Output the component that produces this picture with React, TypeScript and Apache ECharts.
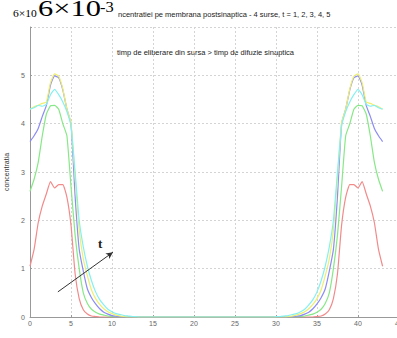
import React, { useEffect, useRef } from "react";
import * as echarts from "echarts";

const xLeft = [0, 0.5, 1, 1.5, 2, 2.5, 3, 3.5, 4, 4.5, 5, 5.5, 6, 6.5, 7, 7.5, 8, 8.5, 9, 9.5, 10, 10.5, 11, 11.5, 12, 12.5, 13, 13.5];
const xRight = [29.5, 30, 30.5, 31, 31.5, 32, 32.5, 33, 33.5, 34, 34.5, 35, 35.5, 36, 36.5, 37, 37.5, 38, 38.5, 39, 39.5, 40, 40.5, 41, 41.5, 42, 42.5, 43];

const redLeft = [1.05, 1.4, 1.95, 2.3, 2.55, 2.8, 2.67, 2.74, 2.74, 2.48, 1.9, 0.9, 0.38, 0.15, 0.06, 0.02, 0.01, 0, 0, 0, 0, 0, 0, 0, 0, 0, 0, 0];
const redRight = [0, 0, 0, 0, 0, 0, 0, 0, 0, 0, 0, 0.01, 0.02, 0.06, 0.15, 0.38, 0.9, 1.9, 2.48, 2.74, 2.74, 2.67, 2.8, 2.55, 2.3, 1.95, 1.4, 1.05];

const greenLeft = [2.6, 2.85, 3.2, 3.75, 4.2, 4.37, 4.38, 4.3, 4.0, 3.75, 2.7, 1.7, 1.0, 0.5, 0.28, 0.16, 0.1, 0.06, 0.04, 0.02, 0.01, 0, 0, 0, 0, 0, 0, 0];
const greenRight = [0, 0, 0, 0, 0, 0, 0, 0.01, 0.02, 0.04, 0.06, 0.1, 0.16, 0.28, 0.5, 1.0, 1.7, 2.7, 3.75, 4.0, 4.3, 4.38, 4.37, 4.2, 3.75, 3.2, 2.85, 2.6];

const blueLeft = [3.63, 3.75, 3.9, 4.15, 4.38, 4.8, 4.99, 4.95, 4.7, 4.3, 4.0, 2.5, 1.4, 0.95, 0.58, 0.4, 0.27, 0.17, 0.1, 0.06, 0.03, 0.015, 0, 0, 0, 0, 0, 0];
const blueRight = [0, 0, 0, 0, 0, 0, 0.015, 0.03, 0.06, 0.1, 0.17, 0.27, 0.4, 0.58, 0.95, 1.4, 2.5, 4.0, 4.3, 4.7, 4.95, 4.99, 4.8, 4.38, 4.15, 3.9, 3.75, 3.63];

const yellowLeft = [4.3, 4.35, 4.38, 4.42, 4.45, 4.85, 5.03, 4.98, 4.72, 4.3, 4.02, 2.9, 1.8, 1.2, 0.85, 0.56, 0.38, 0.26, 0.17, 0.11, 0.07, 0.04, 0.02, 0.01, 0, 0, 0, 0];
const yellowRight = [0, 0, 0, 0, 0.01, 0.02, 0.04, 0.07, 0.11, 0.17, 0.26, 0.38, 0.56, 0.85, 1.2, 1.8, 2.9, 4.02, 4.3, 4.72, 4.98, 5.03, 4.85, 4.45, 4.42, 4.38, 4.35, 4.3];

const cyanLeft = [4.3, 4.33, 4.38, 4.36, 4.4, 4.6, 4.71, 4.6, 4.45, 4.25, 3.95, 3.0, 2.0, 1.45, 1.05, 0.75, 0.52, 0.36, 0.25, 0.16, 0.11, 0.07, 0.05, 0.03, 0.02, 0.01, 0.005, 0];
const cyanRight = [0, 0.005, 0.01, 0.02, 0.03, 0.05, 0.07, 0.11, 0.16, 0.25, 0.36, 0.52, 0.75, 1.05, 1.45, 2.0, 3.0, 3.95, 4.25, 4.45, 4.6, 4.71, 4.6, 4.4, 4.36, 4.38, 4.33, 4.3];

const seriesDefs = [
  { name: "t=1", left: redLeft, right: redRight, color: "#f28a8a" },
  { name: "t=2", left: greenLeft, right: greenRight, color: "#86e886" },
  { name: "t=3", left: blueLeft, right: blueRight, color: "#8c8cf4" },
  { name: "t=4", left: yellowLeft, right: yellowRight, color: "#eeee70" },
  { name: "t=5", left: cyanLeft, right: cyanRight, color: "#86f0f0" },
];

const xTickLabels = ["0", "5", "10", "15", "20", "25", "30", "35", "40", "45"];
const yTickLabels = ["0", "1", "2", "3", "4", "5", ""];

const arrowFrom = [3.4, 0.52];
const arrowTo = [10.12, 1.34];

const titleText = "ncentratiei pe membrana postsinaptica - 4 surse, t = 1, 2, 3, 4, 5";
const subtitleText = "timp de eliberare din sursa > timp de difuzie sinaptica";
const yName = "concentratia";

export default function App() {
  const ref = useRef<HTMLDivElement>(null);
  useEffect(() => {
    if (!ref.current) return;
    const chart = echarts.init(ref.current, null, { renderer: "svg" });
    const series: any[] = seriesDefs.map((s) => ({
      type: "line",
      name: s.name,
      data: [...xLeft.map((x, i) => [x, s.left[i]]), ...xRight.map((x, i) => [x, s.right[i]])],
      showSymbol: false,
      smooth: 0.15,
      lineStyle: { color: s.color, width: 1.2 },
      itemStyle: { color: s.color },
      z: 3,
    }));
    series.push({
      type: "line",
      data: [],
      markLine: {
        silent: true,
        symbol: ["none", "arrow"],
        symbolSize: [5, 7],
        label: { show: false },
        lineStyle: { color: "#333", width: 1, type: "solid" },
        data: [[{ coord: arrowFrom }, { coord: arrowTo }]],
      },
    });
    chart.setOption({
      animation: false,
      grid: { left: 30, top: 27, width: 369, bottom: 21, containLabel: false, outerBoundsMode: "none" },
      xAxis: {
        type: "value",
        min: 0,
        max: 45,
        interval: 5,
        axisLine: { show: true, lineStyle: { color: "#999" } },
        axisTick: { show: true, inside: true, length: 2, lineStyle: { color: "#999" } },
        axisLabel: {
          color: "#666",
          fontSize: 7,
          fontFamily: "Liberation Sans",
          margin: 3,
          formatter: (v: number) => xTickLabels[Math.round(v / 5)] ?? "",
        },
        splitLine: { show: true, lineStyle: { color: "#d4d4d4", type: [2, 2], width: 1 } },
      },
      yAxis: {
        type: "value",
        min: 0,
        max: 6,
        interval: 1,
        name: yName,
        nameLocation: "middle",
        nameGap: 15,
        nameTextStyle: { color: "#333", fontSize: 7, fontFamily: "Liberation Sans" },
        axisLine: { show: true, lineStyle: { color: "#999" } },
        axisTick: { show: true, inside: true, length: 2, lineStyle: { color: "#999" } },
        axisLabel: {
          color: "#666",
          fontSize: 7,
          fontFamily: "Liberation Sans",
          margin: 5,
          formatter: (v: number) => yTickLabels[Math.round(v)] ?? "",
        },
        splitLine: { show: true, lineStyle: { color: "#d4d4d4", type: [2, 2], width: 1 } },
      },
      graphic: [
        {
          type: "text",
          x: 13,
          y: 8,
          scaleX: 1.05,
          style: { text: "6×10", fontSize: 11, fontFamily: "Liberation Serif", fill: "#000", verticalAlign: "top" },
        },
        {
          type: "text",
          x: 38,
          y: -3.5,
          scaleX: 1.27,
          style: { text: "6×10", fontSize: 24, fontFamily: "Liberation Serif", fill: "#000", verticalAlign: "top" },
        },
        {
          type: "text",
          x: 100,
          y: -1,
          scaleX: 1.1,
          style: { text: "-3", fontSize: 15, fontFamily: "Liberation Serif", fill: "#000", verticalAlign: "top" },
        },
        {
          type: "text",
          x: 118,
          y: 10,
          style: { text: titleText, fontSize: 7.5, fontFamily: "Liberation Sans", fill: "#222", verticalAlign: "top" },
        },
        {
          type: "text",
          x: 117,
          y: 48,
          style: { text: subtitleText, fontSize: 7.5, fontFamily: "Liberation Sans", fill: "#222", verticalAlign: "top" },
        },
        {
          type: "text",
          x: 98,
          y: 237,
          style: { text: "t", fontSize: 13, fontWeight: "bold", fontFamily: "Liberation Serif", fill: "#222", verticalAlign: "top" },
        },
      ],
      series,
    });
    return () => chart.dispose();
  }, []);
  return <div ref={ref} style={{ position: "fixed", left: 0, top: 0, width: 397, height: 338, background: "#fff" }} />;
}
